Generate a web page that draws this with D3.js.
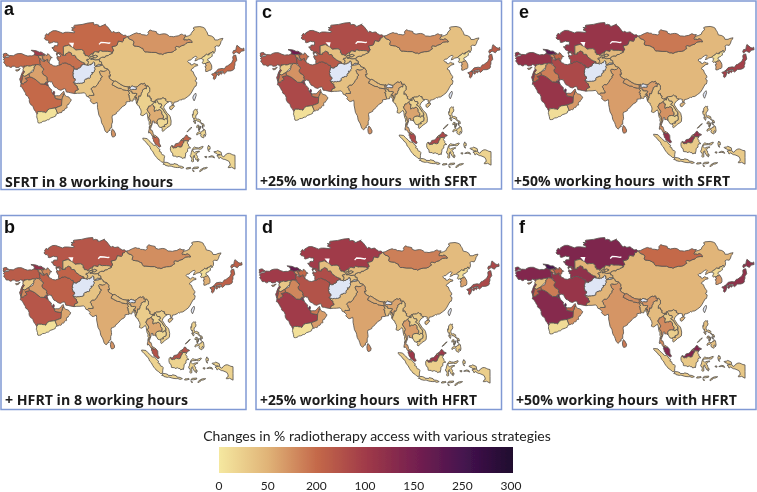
<!DOCTYPE html>
<html>
<head>
<meta charset="utf-8">
<script src="https://cdn.jsdelivr.net/npm/d3@7"></script>
<style>
  html, body { margin: 0; padding: 0; background: #fff; }
  svg { display: block; }
</style>
</head>
<body>
<div id="chart"></div>
<script>
const width = 757;
const height = 492;

// country order shared by all the value arrays below
const countries = ['China','Kazakhstan','Mongolia','India','Pakistan','Afghanistan','Turkey','Iran','Saudi Arabia','Iraq','Yemen','Oman','UAE','Kuwait','Qatar','Georgia','Armenia','Azerbaijan','Syria','Jordan','Lebanon','Israel','Cyprus','Turkmenistan','Uzbekistan','Kyrgyzstan','Tajikistan','Nepal','Bhutan','Bangladesh','Sri Lanka','Myanmar','Thailand','Laos','Vietnam','Cambodia','Malaysia','Brunei','Indonesia','Timor-Leste','Philippines','Taiwan','North Korea','South Korea','Japan'];

// % change, null = no data
const sfrt8   = [35,100,70,50,32,null,100,90,100,62,5,55,70,140,160,150,60,75,25,75,120,120,60,95,32,32,30,38,null,32,70,22,55,18,22,15,105,45,17,15,18,null,10,50,100];
const hfrt8   = [38,120,75,55,35,null,115,110,120,65,8,58,75,150,175,165,62,80,28,80,130,130,65,105,35,35,32,42,null,35,72,26,58,20,25,18,125,45,20,15,22,null,10,52,110];
const sfrt25  = [38,130,75,55,38,null,125,120,135,72,8,60,85,165,190,205,68,95,28,85,140,140,70,115,38,38,35,45,null,35,75,26,60,22,25,18,135,50,20,18,22,null,10,58,115];
const hfrt25  = [42,150,85,60,42,null,150,125,150,80,8,65,90,180,205,215,75,100,32,90,150,150,75,130,40,42,38,55,null,40,80,32,65,25,30,20,155,55,25,18,28,null,12,62,135];
const sfrt50  = [45,160,90,65,45,null,165,135,160,85,10,68,95,190,220,225,80,105,32,100,165,165,80,140,45,45,40,60,null,42,85,38,72,28,32,22,165,60,28,20,32,null,12,65,145];
const hfrt50  = [48,190,100,70,48,null,185,160,180,88,12,72,105,200,235,245,85,115,38,105,175,175,85,170,50,50,45,75,null,45,90,42,78,30,38,25,185,65,30,22,38,null,15,68,170];

const panelLetters = ['a','b','c','d','e','f'];
const panelTitles = ['SFRT in 8 working hours','+ HFRT in 8 working hours','+25% working hours  with SFRT','+25% working hours  with HFRT','+50% working hours  with SFRT','+50% working hours  with HFRT'];
const panelValues = [sfrt8, hfrt8, sfrt25, hfrt25, sfrt50, hfrt50];

const legendTitle = 'Changes in % radiotherapy access with various strategies';
const legendLabels = ['0','50','200','100','150','250','300'];
const legendStops = [0,50,100,150,200,250,300];
const legendColors = ['#f5e8a0','#e0b377','#c4694a','#a03a48','#752050','#45134f','#1f0a2e'];

// outlines as [lon, lat] rings
const shapes = {
  'China': [
    [[123.57,53.46],[125.07,53.16],[125.95,52.79],[126.56,51.78],[126.94,51.35],[127.29,50.74],[127.66,49.76],[129.4,49.44],[130.58,48.73],[130.99,47.79],[132.51,47.79],[133.37,48.18],[135.03,48.48],[134.5,47.58],[134.11,47.21],[133.77,46.12],[133.1,45.14],[131.88,45.32],[130.98,44.84],[131.29,44.11],[131.14,42.93],[130.64,42.4],[129.99,42.99],[129.6,42.42],[128.05,41.99],[128.21,41.47],[127.34,41.5],[126.87,41.82],[126.18,41.11],[125.08,40.57],[124.27,39.93],[122.87,39.64],[122.13,39.17],[121.05,38.9],[121.59,39.36],[121.38,39.75],[122.17,40.42],[121.64,40.95],[120.77,40.59],[119.64,39.9],[119.02,39.25],[118.04,39.2],[117.53,38.74],[118.06,38.06],[118.88,37.9],[118.91,37.45],[119.7,37.16],[120.82,37.87],[121.71,37.48],[122.36,37.45],[122.52,36.93],[121.1,36.65],[120.64,36.11],[119.66,35.61],[119.15,34.91],[120.23,34.36],[120.62,33.38],[121.23,32.46],[121.91,31.69],[121.89,30.95],[121.26,30.68],[121.5,30.14],[122.09,29.83],[121.94,29.02],[121.68,28.23],[121.13,28.14],[120.4,27.05],[119.59,25.74],[118.66,24.55],[117.28,23.62],[115.89,22.78],[114.76,22.67],[114.15,22.22],[113.81,22.55],[113.24,22.05],[111.84,21.55],[110.78,21.4],[110.44,20.34],[109.89,20.28],[109.63,21.01],[109.86,21.4],[108.52,21.72],[108.05,21.55],[107.04,21.81],[106.57,22.22],[106.73,22.79],[105.81,22.98],[105.33,23.35],[104.48,22.82],[103.5,22.7],[102.71,22.71],[102.17,22.46],[101.65,22.32],[101.8,21.17],[101.27,21.2],[101.18,21.44],[101.15,21.85],[100.42,21.56],[99.98,21.74],[99.24,22.12],[99.53,22.95],[98.9,23.14],[98.66,24.06],[97.6,23.9],[97.72,25.08],[98.67,25.92],[98.71,26.74],[98.68,27.51],[98.25,27.75],[97.91,28.34],[97.33,28.26],[96.25,28.41],[96.59,28.83],[96.12,29.45],[95.4,29.03],[94.57,29.28],[93.41,28.64],[92.5,27.9],[91.7,27.77],[91.26,28.04],[90.73,28.06],[90.02,28.3],[89.48,28.04],[88.81,27.3],[88.73,28.09],[88.12,27.88],[86.95,27.97],[85.82,28.2],[85.01,28.64],[84.23,28.84],[83.9,29.32],[83.34,29.46],[82.33,30.12],[81.53,30.42],[81.11,30.18],[79.72,30.88],[78.74,31.52],[78.46,32.62],[79.18,32.48],[79.21,32.99],[78.81,33.51],[78.91,34.32],[77.84,35.49],[76.19,35.9],[75.9,36.67],[75.16,37.13],[74.98,37.42],[74.83,37.99],[74.86,38.38],[74.26,38.61],[73.93,38.51],[73.68,39.43],[73.96,39.66],[73.82,39.89],[74.78,40.37],[75.47,40.56],[76.53,40.43],[76.9,41.07],[78.19,41.19],[78.54,41.58],[80.12,42.12],[80.26,42.35],[80.18,42.92],[80.87,43.18],[79.97,44.92],[81.95,45.32],[82.46,45.54],[83.18,47.33],[85.16,47.0],[85.72,47.45],[85.77,48.46],[86.6,48.55],[87.36,49.21],[87.75,49.3],[88.01,48.6],[88.85,48.07],[90.28,47.69],[90.97,46.89],[90.59,45.72],[90.95,45.29],[92.13,45.12],[93.48,44.98],[94.69,44.35],[95.31,44.24],[95.76,43.32],[96.35,42.73],[97.45,42.75],[99.52,42.52],[101.83,42.51],[103.31,41.91],[104.52,41.91],[104.96,41.6],[106.13,42.13],[107.74,42.48],[109.24,42.52],[110.41,42.87],[111.13,43.41],[111.83,43.74],[111.67,44.07],[111.35,44.46],[111.87,45.1],[112.44,45.01],[113.46,44.81],[114.46,45.34],[115.99,45.73],[116.72,46.39],[117.42,46.67],[118.87,46.81],[119.66,46.69],[119.77,47.05],[118.87,47.75],[118.06,48.07],[117.3,47.7],[116.31,47.85],[115.74,47.73],[115.49,48.14],[116.19,49.13],[117.88,49.51],[119.29,50.14],[119.28,50.58],[120.18,51.64],[120.74,51.96],[120.73,52.52],[120.18,52.75],[121.0,53.25],[122.25,53.43]],
    [[109.48,18.2],[108.66,18.51],[108.63,19.37],[109.12,19.82],[110.21,20.1],[110.79,20.08],[111.01,19.7],[110.57,19.26],[110.34,18.68]]
  ],
  'Kazakhstan': [[[70.87,55.17],[71.18,54.13],[72.22,54.38],[73.51,54.04],[73.43,53.49],[74.38,53.55],[76.89,54.49],[76.53,54.18],[77.8,53.4],[80.04,50.86],[80.57,51.39],[81.95,50.81],[83.38,51.07],[83.94,50.89],[84.42,50.31],[85.12,50.12],[85.54,49.69],[86.83,49.83],[87.36,49.21],[86.6,48.55],[85.77,48.46],[85.72,47.45],[85.16,47.0],[83.18,47.33],[82.46,45.54],[81.95,45.32],[79.97,44.92],[80.87,43.18],[80.18,42.92],[80.26,42.35],[79.64,42.5],[79.14,42.86],[77.66,42.96],[76.0,42.99],[75.64,42.88],[74.21,43.3],[73.65,43.09],[73.49,42.5],[71.84,42.85],[71.19,42.7],[70.96,42.27],[70.39,42.08],[69.07,41.38],[68.63,40.67],[68.26,40.66],[67.99,41.14],[66.71,41.17],[66.51,41.99],[66.02,41.99],[66.1,42.99],[64.9,43.73],[63.19,43.65],[62.01,43.5],[61.06,44.41],[60.24,44.78],[58.69,45.5],[58.5,45.59],[55.93,44.99],[55.97,41.31],[55.46,41.26],[54.76,42.04],[54.08,42.32],[52.94,42.12],[52.5,41.78],[52.45,42.03],[52.69,42.44],[52.5,42.79],[51.34,43.13],[50.89,44.03],[50.34,44.28],[50.31,44.61],[51.28,44.51],[51.32,45.25],[52.17,45.41],[53.04,45.26],[53.22,46.23],[53.04,46.85],[52.04,46.8],[51.19,47.05],[50.03,46.61],[49.1,46.4],[48.59,46.56],[48.69,47.08],[48.06,47.74],[47.32,47.72],[46.47,48.39],[47.04,49.15],[46.75,49.36],[47.55,50.45],[48.58,49.87],[48.7,50.61],[50.77,51.69],[52.33,51.72],[54.53,51.03],[55.72,50.62],[56.78,51.04],[58.36,51.06],[61.34,50.8],[61.59,51.27],[60.0,51.96],[60.93,52.45],[59.97,52.98],[61.7,52.98],[60.98,53.66],[61.44,54.01],[65.18,54.35],[68.17,54.97],[69.07,55.39]]],
  'Mongolia': [[[87.75,49.3],[88.81,49.47],[90.71,50.33],[92.23,50.8],[93.1,50.5],[94.15,50.48],[94.82,50.01],[95.81,49.98],[97.26,49.73],[98.23,50.42],[97.83,51.01],[98.86,52.05],[99.98,51.63],[100.89,51.52],[102.07,51.26],[102.26,50.51],[103.68,50.09],[104.62,50.28],[105.89,50.41],[106.89,50.27],[107.87,49.79],[108.48,49.28],[109.4,49.29],[110.66,49.13],[111.58,49.38],[112.9,49.54],[114.36,50.25],[114.96,50.14],[115.49,49.81],[116.68,49.89],[116.19,49.13],[115.49,48.14],[115.74,47.73],[116.31,47.85],[117.3,47.7],[118.06,48.07],[118.87,47.75],[119.77,47.05],[119.66,46.69],[118.87,46.81],[117.42,46.67],[116.72,46.39],[115.99,45.73],[114.46,45.34],[113.46,44.81],[112.44,45.01],[111.87,45.1],[111.35,44.46],[111.67,44.07],[111.83,43.74],[111.13,43.41],[110.41,42.87],[109.24,42.52],[107.74,42.48],[106.13,42.13],[104.96,41.6],[104.52,41.91],[103.31,41.91],[101.83,42.51],[99.52,42.52],[97.45,42.75],[96.35,42.73],[95.76,43.32],[95.31,44.24],[94.69,44.35],[93.48,44.98],[92.13,45.12],[90.95,45.29],[90.59,45.72],[90.97,46.89],[90.28,47.69],[88.85,48.07],[88.01,48.6]]],
  'India': [[[77.84,35.49],[78.91,34.32],[78.81,33.51],[79.21,32.99],[79.18,32.48],[78.46,32.62],[78.74,31.52],[79.72,30.88],[81.11,30.18],[80.48,29.73],[80.09,28.79],[81.06,28.42],[81.99,27.93],[83.3,27.36],[84.68,27.23],[85.25,26.73],[86.02,26.63],[87.23,26.4],[88.06,26.41],[88.17,26.81],[88.04,27.45],[88.12,27.88],[88.73,28.09],[88.81,27.3],[88.84,27.1],[89.74,26.72],[90.37,26.88],[91.22,26.81],[92.03,26.84],[92.1,27.45],[91.7,27.77],[92.5,27.9],[93.41,28.64],[94.57,29.28],[95.4,29.03],[96.12,29.45],[96.59,28.83],[96.25,28.41],[97.33,28.26],[97.4,27.88],[97.05,27.7],[97.13,27.08],[96.42,27.26],[95.12,26.57],[95.16,26.0],[94.6,25.16],[94.55,24.68],[94.11,23.85],[93.33,24.08],[93.29,23.04],[93.06,22.7],[93.17,22.28],[92.67,22.04],[92.15,23.63],[91.87,23.62],[91.71,22.99],[91.16,23.5],[91.47,24.07],[91.92,24.13],[92.38,24.98],[91.8,25.15],[90.87,25.13],[89.92,25.27],[89.83,25.97],[89.36,26.01],[88.56,26.45],[88.21,25.77],[88.93,25.24],[88.31,24.87],[88.08,24.5],[88.7,24.23],[88.53,23.63],[88.88,22.88],[89.03,22.06],[88.89,21.69],[88.21,21.7],[86.98,21.5],[87.03,20.74],[86.5,20.15],[85.06,19.48],[83.94,18.3],[83.19,17.67],[82.19,17.02],[82.19,16.56],[81.69,16.31],[80.79,15.95],[80.32,15.9],[80.03,15.14],[80.23,13.84],[80.29,13.01],[79.86,12.06],[79.86,10.36],[79.34,10.31],[78.89,9.55],[79.19,9.22],[78.28,8.93],[77.94,8.25],[77.54,7.97],[76.59,8.9],[76.13,10.3],[75.75,11.31],[75.4,11.78],[74.86,12.74],[74.62,13.99],[74.44,14.62],[73.53,15.99],[73.12,17.93],[72.82,19.21],[72.82,20.42],[72.63,21.36],[71.18,20.76],[70.47,20.88],[69.16,22.09],[69.64,22.45],[69.35,22.84],[68.18,23.69],[68.84,24.36],[71.04,24.36],[70.84,25.22],[70.28,25.72],[70.17,26.49],[69.51,26.94],[70.62,27.99],[71.78,27.91],[72.82,28.96],[73.45,29.98],[74.42,30.98],[74.41,31.69],[75.26,32.27],[74.45,32.76],[74.1,33.44],[73.75,34.32],[74.24,34.75],[75.76,34.5],[76.87,34.65]]],
  'Pakistan': [[[75.16,37.13],[75.9,36.67],[76.19,35.9],[77.84,35.49],[76.87,34.65],[75.76,34.5],[74.24,34.75],[73.75,34.32],[74.1,33.44],[74.45,32.76],[75.26,32.27],[74.41,31.69],[74.42,30.98],[73.45,29.98],[72.82,28.96],[71.78,27.91],[70.62,27.99],[69.51,26.94],[70.17,26.49],[70.28,25.72],[70.84,25.22],[71.04,24.36],[69.51,24.26],[68.84,24.36],[68.18,23.69],[67.44,23.94],[67.15,24.66],[66.37,25.43],[64.53,25.24],[62.91,25.22],[61.5,25.08],[61.87,26.24],[63.32,26.76],[63.23,27.22],[62.76,27.38],[62.73,28.26],[61.77,28.7],[61.37,29.3],[60.87,29.83],[62.55,29.32],[63.55,29.47],[64.15,29.34],[64.35,29.56],[65.05,29.47],[66.35,29.89],[66.38,30.74],[66.94,31.3],[67.68,31.3],[67.79,31.58],[68.56,31.71],[68.93,31.62],[69.32,31.9],[69.26,32.5],[69.69,33.11],[70.32,33.36],[69.93,34.02],[70.88,33.99],[71.16,34.35],[71.11,34.73],[71.61,35.15],[71.5,35.65],[71.26,36.07],[71.85,36.51],[72.92,36.72],[74.07,36.84],[74.58,37.02]]],
  'Afghanistan': [[[66.52,37.36],[67.08,37.36],[67.83,37.14],[68.14,37.02],[68.86,37.34],[69.2,37.15],[69.52,37.61],[70.12,37.59],[70.27,37.74],[70.38,38.14],[70.81,38.49],[71.35,38.26],[71.24,37.95],[71.54,37.91],[71.45,37.07],[71.84,36.51],[72.19,36.95],[72.64,37.05],[73.26,37.5],[73.95,37.42],[74.98,37.42],[75.16,37.13],[74.58,37.02],[74.07,36.84],[72.92,36.72],[71.85,36.51],[71.26,36.07],[71.5,35.65],[71.61,35.15],[71.11,34.73],[71.16,34.35],[70.88,33.99],[69.93,34.02],[70.32,33.36],[69.69,33.11],[69.26,32.5],[69.32,31.9],[68.93,31.62],[68.56,31.71],[67.79,31.58],[67.68,31.3],[66.94,31.3],[66.38,30.74],[66.35,29.89],[65.05,29.47],[64.35,29.56],[64.15,29.34],[63.55,29.47],[62.55,29.32],[60.87,29.83],[61.78,30.74],[61.7,31.38],[60.94,31.55],[60.86,32.18],[60.54,32.98],[60.96,33.53],[60.53,33.68],[60.8,34.4],[61.21,35.65],[62.23,35.27],[62.98,35.4],[63.19,35.86],[63.98,36.01],[64.55,36.31],[64.75,37.11],[65.59,37.31],[65.75,37.66],[66.22,37.39]]],
  'Turkey': [
    [[44.77,37.17],[44.29,37.0],[43.94,37.26],[42.78,37.39],[42.35,37.23],[41.21,37.07],[40.67,37.09],[39.52,36.72],[38.7,36.71],[38.17,36.9],[37.07,36.62],[36.74,36.82],[36.69,36.26],[36.42,36.04],[36.15,35.82],[35.78,36.27],[36.16,36.65],[35.55,36.57],[34.71,36.8],[34.03,36.22],[32.51,36.11],[31.7,36.64],[30.62,36.68],[30.39,36.26],[29.7,36.14],[28.73,36.68],[27.64,36.66],[27.05,37.65],[26.32,38.21],[26.8,38.99],[26.17,39.46],[27.28,40.42],[28.82,40.46],[29.24,41.22],[31.15,41.09],[32.35,41.74],[33.51,42.02],[35.17,42.04],[36.91,41.34],[38.35,40.95],[39.51,41.1],[40.37,41.01],[41.55,41.54],[42.62,41.58],[43.58,41.09],[43.75,40.74],[43.66,40.25],[44.4,40.01],[44.79,39.71],[44.11,39.43],[44.42,38.28],[44.23,37.97]],
    [[26.04,40.82],[26.29,40.94],[26.12,41.83],[27.14,42.14],[27.99,42.01],[28.12,41.62],[28.99,41.3],[28.81,41.05],[27.62,41.0],[27.19,40.69],[26.36,40.15],[26.04,40.62]]
  ],
  'Iran': [[[53.92,37.2],[54.8,37.39],[55.51,37.96],[56.18,37.94],[56.62,38.12],[57.33,38.03],[58.44,37.52],[59.23,37.41],[60.38,36.53],[61.12,36.49],[61.21,35.65],[60.8,34.4],[60.53,33.68],[60.96,33.53],[60.54,32.98],[60.86,32.18],[60.94,31.55],[61.7,31.38],[61.78,30.74],[60.87,29.83],[61.37,29.3],[61.77,28.7],[62.73,28.26],[62.76,27.38],[63.23,27.22],[63.32,26.76],[61.87,26.24],[61.5,25.08],[59.62,25.38],[58.53,25.61],[57.4,25.74],[56.97,26.97],[56.49,27.14],[55.72,26.96],[54.72,26.48],[53.49,26.81],[52.48,27.58],[51.52,27.87],[50.85,28.81],[50.12,30.15],[49.58,29.99],[48.94,30.32],[48.57,29.93],[48.01,30.45],[48.0,30.99],[47.69,31.0],[47.85,31.71],[47.33,32.47],[46.11,32.96],[45.42,33.97],[45.65,34.75],[46.15,35.09],[46.08,35.68],[45.42,35.98],[44.77,37.17],[44.23,37.97],[44.42,38.28],[44.11,39.43],[44.79,39.71],[44.95,39.34],[45.46,38.87],[46.14,38.74],[46.51,38.77],[47.69,39.51],[48.06,39.58],[48.36,39.29],[48.01,38.79],[48.63,38.27],[48.88,38.32],[49.2,37.58],[50.15,37.37],[50.84,36.87],[52.26,36.7],[53.83,36.97]]],
  'Saudi Arabia': [[[34.96,29.36],[36.07,29.2],[36.5,29.51],[36.74,29.87],[37.5,30.0],[37.67,30.34],[38.0,30.51],[37.0,31.51],[39.0,32.01],[39.2,32.16],[40.4,31.89],[41.89,31.19],[44.71,29.18],[46.57,29.1],[47.46,29.0],[47.71,28.53],[48.42,28.55],[48.81,27.69],[49.3,27.46],[49.47,27.11],[50.15,26.69],[50.21,26.28],[50.11,25.94],[50.24,25.61],[50.53,25.33],[50.66,24.9],[50.81,24.75],[51.11,24.56],[51.39,24.63],[51.58,24.25],[51.62,24.01],[52.0,23.0],[55.01,22.5],[55.21,22.71],[55.67,22.0],[55.0,20.0],[52.0,19.0],[49.12,18.62],[48.18,18.17],[47.47,17.12],[47.0,16.95],[46.75,17.28],[46.37,17.23],[45.4,17.33],[45.22,17.43],[44.06,17.41],[43.79,17.32],[43.38,17.58],[43.12,17.09],[43.22,16.67],[42.78,16.35],[42.65,16.77],[42.35,17.08],[42.27,17.47],[41.75,17.83],[41.22,18.67],[40.94,19.49],[40.25,20.17],[39.8,20.34],[39.14,21.29],[39.02,21.99],[39.07,22.58],[38.49,23.69],[38.02,24.08],[37.48,24.29],[37.15,24.86],[37.21,25.08],[36.93,25.6],[36.64,25.83],[36.25,26.57],[35.64,27.38],[35.13,28.06],[34.63,28.06],[34.79,28.61],[34.83,28.96]]],
  'Iraq': [[[45.42,35.98],[46.08,35.68],[46.15,35.09],[45.65,34.75],[45.42,33.97],[46.11,32.96],[47.33,32.47],[47.85,31.71],[47.69,31.0],[48.0,30.99],[48.01,30.45],[48.57,29.93],[47.97,29.98],[47.3,30.06],[46.57,29.1],[44.71,29.18],[41.89,31.19],[40.4,31.89],[39.2,32.16],[38.79,33.38],[41.01,34.42],[41.38,35.63],[41.29,36.36],[41.84,36.61],[42.35,37.23],[42.78,37.39],[43.94,37.26],[44.29,37.0],[44.77,37.17]]],
  'Yemen': [[[53.11,16.65],[52.39,16.38],[52.19,15.94],[52.17,15.6],[51.17,15.18],[49.57,14.71],[48.68,14.0],[48.24,13.95],[47.94,14.01],[47.35,13.59],[46.72,13.4],[45.88,13.35],[45.63,13.29],[45.41,13.03],[45.14,12.95],[44.99,12.7],[44.49,12.72],[44.18,12.59],[43.48,12.64],[43.22,13.22],[43.25,13.77],[43.09,14.06],[42.89,14.8],[42.6,15.21],[42.81,15.26],[42.7,15.72],[42.82,15.91],[42.78,16.35],[43.22,16.67],[43.12,17.09],[43.38,17.58],[43.79,17.32],[44.06,17.41],[45.22,17.43],[45.4,17.33],[46.37,17.23],[46.75,17.28],[47.0,16.95],[47.47,17.12],[48.18,18.17],[49.12,18.62],[52.0,19.0],[52.78,17.35]]],
  'Oman': [[[55.21,22.71],[55.23,23.11],[55.53,23.52],[55.53,23.93],[55.98,24.13],[55.8,24.27],[55.89,24.92],[56.4,24.92],[56.85,24.24],[57.4,23.88],[58.14,23.75],[58.73,23.57],[59.18,22.99],[59.45,22.66],[59.81,22.53],[59.81,22.31],[59.44,21.71],[59.28,21.43],[58.86,21.11],[58.49,20.43],[58.03,20.48],[57.83,20.24],[57.67,19.74],[57.79,19.07],[57.69,18.94],[57.23,18.95],[56.61,18.57],[56.51,18.09],[56.28,17.88],[55.66,17.88],[55.27,17.63],[55.27,17.23],[54.79,16.95],[54.24,17.04],[53.57,16.71],[53.11,16.65],[52.78,17.35],[52.0,19.0],[55.0,20.0],[55.67,22.0]]],
  'UAE': [[[51.58,24.25],[51.76,24.29],[51.79,24.02],[52.58,24.18],[53.4,24.15],[54.01,24.12],[54.69,24.8],[55.44,25.44],[56.07,26.06],[56.26,25.71],[56.4,24.92],[55.89,24.92],[55.8,24.27],[55.98,24.13],[55.53,23.93],[55.53,23.52],[55.23,23.11],[55.21,22.71],[55.01,22.5],[52.0,23.0],[51.62,24.01]]],
  'Kuwait': [[[47.97,29.98],[48.18,29.53],[48.09,29.31],[48.42,28.55],[47.71,28.53],[47.46,29.0],[46.57,29.1],[47.3,30.06]]],
  'Qatar': [[[50.81,24.75],[50.74,25.48],[51.01,26.01],[51.29,26.11],[51.59,25.8],[51.61,25.22],[51.39,24.63],[51.11,24.56]]],
  'Georgia': [[[41.55,41.54],[41.7,41.96],[41.45,42.65],[40.88,43.01],[40.32,43.13],[39.96,43.44],[40.92,43.38],[42.39,43.22],[43.76,42.74],[43.93,42.55],[44.54,42.71],[45.47,42.5],[45.78,42.09],[46.4,41.86],[46.15,41.72],[46.64,41.18],[46.5,41.06],[45.96,41.12],[45.22,41.41],[44.97,41.25],[43.58,41.09],[42.62,41.58]]],
  'Armenia': [[[43.58,41.09],[44.97,41.25],[45.18,40.99],[45.56,40.81],[45.36,40.56],[45.89,40.22],[45.61,39.9],[46.03,39.63],[46.48,39.46],[46.51,38.77],[46.14,38.74],[45.74,39.32],[45.3,39.47],[45.0,39.74],[44.79,39.71],[44.4,40.01],[43.66,40.25],[43.75,40.74]]],
  'Azerbaijan': [[[46.4,41.86],[46.69,41.83],[47.37,41.22],[47.82,41.15],[48.01,41.94],[48.58,41.81],[49.11,41.28],[49.62,40.57],[50.08,40.53],[50.39,40.26],[49.57,40.18],[49.4,39.4],[49.22,39.05],[48.86,38.82],[48.88,38.32],[48.63,38.27],[48.01,38.79],[48.36,39.29],[48.06,39.58],[47.69,39.51],[46.51,38.77],[46.48,39.46],[46.03,39.63],[45.61,39.9],[45.89,40.22],[45.36,40.56],[45.56,40.81],[45.18,40.99],[44.97,41.25],[45.22,41.41],[45.96,41.12],[46.5,41.06],[46.64,41.18],[46.15,41.72]]],
  'Syria': [[[38.79,33.38],[36.83,32.31],[35.72,32.71],[35.82,33.28],[36.07,33.82],[36.61,34.2],[36.45,34.59],[35.99,34.64],[35.91,35.41],[36.15,35.82],[36.42,36.04],[36.69,36.26],[36.74,36.82],[37.07,36.62],[38.17,36.9],[38.7,36.71],[39.52,36.72],[40.67,37.09],[41.21,37.07],[42.35,37.23],[41.84,36.61],[41.29,36.36],[41.38,35.63],[41.01,34.42]]],
  'Jordan': [[[35.55,32.39],[35.72,32.71],[36.83,32.31],[38.79,33.38],[39.2,32.16],[39.0,32.01],[37.0,31.51],[38.0,30.51],[37.67,30.34],[37.5,30.0],[36.74,29.87],[36.5,29.51],[36.07,29.2],[34.96,29.36],[34.92,29.5],[35.42,31.1],[35.55,31.78]]],
  'Lebanon': [[[35.82,33.28],[35.55,33.26],[35.46,33.09],[35.13,33.09],[35.48,33.91],[35.98,34.61],[36.45,34.59],[36.61,34.2],[36.07,33.82]]],
  'Israel': [[[35.72,32.71],[35.55,32.39],[35.55,31.78],[35.42,31.1],[34.92,29.5],[34.27,31.22],[34.75,32.07],[34.96,32.83],[35.13,33.09],[35.46,33.09],[35.55,33.26],[35.82,33.28]]],
  'Cyprus': [[[33.97,35.06],[34.0,34.98],[32.98,34.57],[32.49,34.7],[32.26,35.1],[32.73,35.14],[33.19,35.17],[34.58,35.67],[33.9,35.25]]],
  'Turkmenistan': [[[61.21,35.65],[61.12,36.49],[60.38,36.53],[59.23,37.41],[58.44,37.52],[57.33,38.03],[56.62,38.12],[56.18,37.94],[55.51,37.96],[54.8,37.39],[53.92,37.2],[53.74,37.91],[53.88,38.95],[53.1,39.29],[53.36,39.98],[52.69,40.03],[52.92,40.88],[53.86,40.63],[54.74,40.95],[54.01,41.55],[53.72,42.12],[52.92,41.87],[52.81,41.14],[52.5,41.78],[52.94,42.12],[54.08,42.32],[54.76,42.04],[55.46,41.26],[55.97,41.31],[57.1,41.32],[56.93,41.83],[57.79,42.17],[58.63,42.75],[59.98,42.22],[60.08,41.43],[60.47,41.22],[61.55,41.27],[61.88,41.08],[62.37,40.05],[63.52,39.36],[64.17,38.89],[65.22,38.4],[66.55,37.97],[66.52,37.36],[66.22,37.39],[65.75,37.66],[65.59,37.31],[64.75,37.11],[64.55,36.31],[63.98,36.01],[63.19,35.86],[62.98,35.4],[62.23,35.27]]],
  'Uzbekistan': [[[66.52,37.36],[66.55,37.97],[65.22,38.4],[64.17,38.89],[63.52,39.36],[62.37,40.05],[61.88,41.08],[61.55,41.27],[60.47,41.22],[60.08,41.43],[59.98,42.22],[58.63,42.75],[57.79,42.17],[56.93,41.83],[57.1,41.32],[55.97,41.31],[55.93,44.99],[58.5,45.59],[58.69,45.5],[60.24,44.78],[61.06,44.41],[62.01,43.5],[63.19,43.65],[64.9,43.73],[66.1,42.99],[66.02,41.99],[66.51,41.99],[66.71,41.17],[67.99,41.14],[68.26,40.66],[68.63,40.67],[69.07,41.38],[70.39,42.08],[70.96,42.27],[71.26,42.17],[70.42,41.52],[71.16,41.14],[71.87,41.39],[73.06,40.87],[71.77,40.15],[71.01,40.24],[70.6,40.22],[70.46,40.5],[70.67,40.96],[69.33,40.73],[69.01,40.09],[68.55,39.53],[67.7,39.58],[67.44,39.14],[68.18,38.9],[68.39,38.16],[67.83,37.14],[67.08,37.36]]],
  'Kyrgyzstan': [[[70.96,42.27],[71.19,42.7],[71.84,42.85],[73.49,42.5],[73.65,43.09],[74.21,43.3],[75.64,42.88],[76.0,42.99],[77.66,42.96],[79.14,42.86],[79.64,42.5],[80.26,42.35],[80.12,42.12],[78.54,41.58],[78.19,41.19],[76.9,41.07],[76.53,40.43],[75.47,40.56],[74.78,40.37],[73.82,39.89],[73.96,39.66],[73.68,39.43],[71.78,39.28],[70.55,39.6],[69.46,39.53],[69.56,40.1],[70.65,39.94],[71.01,40.24],[71.77,40.15],[73.06,40.87],[71.87,41.39],[71.16,41.14],[70.42,41.52],[71.26,42.17]]],
  'Tajikistan': [[[71.01,40.24],[70.65,39.94],[69.56,40.1],[69.46,39.53],[70.55,39.6],[71.78,39.28],[73.68,39.43],[73.93,38.51],[74.26,38.61],[74.86,38.38],[74.83,37.99],[74.98,37.42],[73.95,37.42],[73.26,37.5],[72.64,37.05],[72.19,36.95],[71.84,36.51],[71.45,37.07],[71.54,37.91],[71.24,37.95],[71.35,38.26],[70.81,38.49],[70.38,38.14],[70.27,37.74],[70.12,37.59],[69.52,37.61],[69.2,37.15],[68.86,37.34],[68.14,37.02],[67.83,37.14],[68.39,38.16],[68.18,38.9],[67.44,39.14],[67.7,39.58],[68.55,39.53],[69.01,40.09],[69.33,40.73],[70.67,40.96],[70.46,40.5],[70.6,40.22]]],
  'Nepal': [[[88.12,27.88],[88.04,27.45],[88.17,26.81],[88.06,26.41],[87.23,26.4],[86.02,26.63],[85.25,26.73],[84.68,27.23],[83.3,27.36],[81.99,27.93],[81.06,28.42],[80.09,28.79],[80.48,29.73],[81.11,30.18],[81.53,30.42],[82.33,30.12],[83.34,29.46],[83.9,29.32],[84.23,28.84],[85.01,28.64],[85.82,28.2],[86.95,27.97]]],
  'Bhutan': [[[91.7,27.77],[92.1,27.45],[92.03,26.84],[91.22,26.81],[90.37,26.88],[89.74,26.72],[88.84,27.1],[88.81,27.3],[89.48,28.04],[90.02,28.3],[90.73,28.06],[91.26,28.04]]],
  'Bangladesh': [[[92.67,22.04],[92.65,21.32],[92.3,21.48],[92.37,20.67],[92.08,21.19],[92.03,21.7],[91.83,22.18],[91.42,22.77],[90.5,22.81],[90.59,22.39],[90.27,21.84],[89.85,22.04],[89.7,21.86],[89.42,21.97],[89.03,22.06],[88.88,22.88],[88.53,23.63],[88.7,24.23],[88.08,24.5],[88.31,24.87],[88.93,25.24],[88.21,25.77],[88.56,26.45],[89.36,26.01],[89.83,25.97],[89.92,25.27],[90.87,25.13],[91.8,25.15],[92.38,24.98],[91.92,24.13],[91.47,24.07],[91.16,23.5],[91.71,22.99],[91.87,23.62],[92.15,23.63]]],
  'Sri Lanka': [[[81.79,7.52],[81.64,6.48],[81.22,6.2],[80.35,5.97],[79.87,6.76],[79.7,8.2],[80.15,9.82],[80.84,9.27],[81.3,8.56]]],
  'Myanmar': [[[99.54,20.19],[98.96,19.75],[98.25,19.71],[97.8,18.63],[97.38,18.45],[97.86,17.57],[98.49,16.84],[98.9,16.18],[98.54,15.31],[98.19,15.12],[98.43,14.62],[99.1,13.83],[99.21,13.27],[99.2,12.8],[99.59,11.89],[99.04,10.96],[98.55,9.93],[98.46,10.68],[98.76,11.44],[98.43,12.03],[98.51,13.12],[98.1,13.64],[97.78,14.84],[97.6,16.1],[97.16,16.93],[96.51,16.43],[95.37,15.71],[94.81,15.8],[94.19,16.04],[94.53,17.28],[94.32,18.21],[93.54,19.37],[93.66,19.73],[93.08,19.86],[92.37,20.67],[92.3,21.48],[92.65,21.32],[92.67,22.04],[93.17,22.28],[93.06,22.7],[93.29,23.04],[93.33,24.08],[94.11,23.85],[94.55,24.68],[94.6,25.16],[95.16,26.0],[95.12,26.57],[96.42,27.26],[97.13,27.08],[97.05,27.7],[97.4,27.88],[97.33,28.26],[97.91,28.34],[98.25,27.75],[98.68,27.51],[98.71,26.74],[98.67,25.92],[97.72,25.08],[97.6,23.9],[98.66,24.06],[98.9,23.14],[99.53,22.95],[99.24,22.12],[99.98,21.74],[100.42,21.56],[101.15,21.85],[101.18,21.44],[100.33,20.79],[100.12,20.42]]],
  'Thailand': [[[105.22,14.27],[104.28,14.42],[102.99,14.23],[102.35,13.39],[102.58,12.19],[101.69,12.65],[100.83,12.63],[100.98,13.41],[100.1,13.41],[100.02,12.31],[99.48,10.85],[99.15,9.96],[99.22,9.24],[99.87,9.21],[100.28,8.3],[100.46,7.43],[101.02,6.86],[101.62,6.74],[102.14,6.22],[101.81,5.81],[101.15,5.69],[101.08,6.2],[100.26,6.64],[100.09,6.46],[99.69,6.85],[99.52,7.34],[98.99,7.91],[98.5,8.38],[98.34,7.79],[98.15,8.35],[98.26,8.97],[98.55,9.93],[99.04,10.96],[99.59,11.89],[99.2,12.8],[99.21,13.27],[99.1,13.83],[98.43,14.62],[98.19,15.12],[98.54,15.31],[98.9,16.18],[98.49,16.84],[97.86,17.57],[97.38,18.45],[97.8,18.63],[98.25,19.71],[98.96,19.75],[99.54,20.19],[100.12,20.42],[100.55,20.11],[100.61,19.51],[101.28,19.46],[100.99,18.41],[101.06,17.51],[102.11,18.11],[102.41,17.93],[102.99,17.96],[103.2,18.31],[103.96,18.24],[104.72,17.43],[104.78,16.44],[105.59,15.57],[105.54,14.72]]],
  'Laos': [[[107.38,14.2],[106.5,14.57],[106.04,13.88],[105.22,14.27],[105.54,14.72],[105.59,15.57],[104.78,16.44],[104.72,17.43],[103.96,18.24],[103.2,18.31],[102.99,17.96],[102.41,17.93],[102.11,18.11],[101.06,17.51],[100.99,18.41],[101.28,19.46],[100.61,19.51],[100.55,20.11],[100.12,20.42],[100.33,20.79],[101.18,21.44],[101.27,21.2],[101.8,21.17],[101.65,22.32],[102.17,22.46],[102.75,21.68],[103.2,20.77],[104.44,20.76],[104.82,19.89],[104.18,19.62],[103.9,19.27],[105.09,18.67],[105.93,17.49],[106.56,16.6],[107.31,15.91],[107.56,15.2]]],
  'Vietnam': [[[102.17,22.46],[102.71,22.71],[103.5,22.7],[104.48,22.82],[105.33,23.35],[105.81,22.98],[106.73,22.79],[106.57,22.22],[107.04,21.81],[108.05,21.55],[106.71,20.7],[105.88,19.75],[105.66,19.06],[106.43,18.0],[107.36,16.7],[108.27,16.08],[108.88,15.28],[109.34,13.43],[109.2,11.67],[108.37,11.01],[107.22,10.36],[106.41,9.53],[105.16,8.6],[104.8,9.24],[105.08,9.92],[104.33,10.49],[105.2,10.89],[106.25,10.96],[105.81,11.57],[107.49,12.34],[107.61,13.54],[107.38,14.2],[107.56,15.2],[107.31,15.91],[106.56,16.6],[105.93,17.49],[105.09,18.67],[103.9,19.27],[104.18,19.62],[104.82,19.89],[104.44,20.76],[103.2,20.77],[102.75,21.68]]],
  'Cambodia': [[[102.58,12.19],[102.35,13.39],[102.99,14.23],[104.28,14.42],[105.22,14.27],[106.04,13.88],[106.5,14.57],[107.38,14.2],[107.61,13.54],[107.49,12.34],[105.81,11.57],[106.25,10.96],[105.2,10.89],[104.33,10.49],[103.5,10.63],[103.09,11.15]]],
  'Malaysia': [
    [[101.08,6.2],[101.15,5.69],[101.81,5.81],[102.14,6.22],[102.37,6.13],[102.96,5.52],[103.38,4.86],[103.44,3.38],[103.5,2.79],[103.85,2.52],[104.25,1.63],[103.52,1.23],[102.57,1.97],[101.39,2.76],[101.27,3.27],[100.69,3.94],[100.56,4.77],[100.2,5.31],[100.31,6.04],[100.09,6.46],[100.26,6.64]],
    [[117.88,4.14],[117.02,4.31],[115.87,4.31],[115.52,3.17],[115.13,2.82],[114.62,1.43],[113.81,1.22],[112.86,1.5],[112.38,1.41],[111.8,0.9],[111.16,0.98],[110.51,0.77],[109.83,1.34],[109.66,2.01],[110.4,1.66],[111.17,1.85],[111.37,2.7],[111.8,2.89],[113.0,3.1],[113.71,3.89],[114.2,4.53],[114.6,4.9],[115.45,5.45],[116.22,6.14],[116.73,6.92],[117.13,6.93],[117.64,6.42],[117.69,5.99],[119.18,5.41],[119.11,5.02],[118.44,4.97],[118.62,4.48]]
  ],
  'Brunei': [[[114.2,4.53],[114.6,4.9],[115.45,5.45],[115.41,4.96],[115.35,4.32],[114.87,4.35],[114.66,4.01]]],
  'Indonesia': [
    [[117.88,4.14],[117.31,3.23],[118.05,2.29],[117.88,1.83],[118.99,0.9],[117.81,0.78],[117.48,0.1],[117.52,-0.8],[116.56,-1.49],[116.53,-2.48],[116.15,-4.01],[116.0,-3.66],[114.86,-4.11],[114.47,-3.5],[113.76,-3.44],[113.26,-3.12],[112.07,-3.48],[111.7,-2.99],[111.05,-3.05],[110.22,-2.93],[110.07,-1.59],[109.57,-1.31],[109.09,-0.46],[108.95,0.42],[109.07,1.34],[109.66,2.01],[109.83,1.34],[110.51,0.77],[111.16,0.98],[111.8,0.9],[112.38,1.41],[112.86,1.5],[113.81,1.22],[114.62,1.43],[115.13,2.82],[115.52,3.17],[115.87,4.31],[117.02,4.31]],
    [[104.37,-1.08],[104.54,-1.78],[104.89,-2.34],[105.62,-2.43],[106.11,-3.06],[105.86,-4.31],[105.82,-5.85],[104.71,-5.87],[103.87,-5.04],[102.58,-4.22],[102.16,-3.61],[101.4,-2.8],[100.9,-2.05],[100.14,-0.65],[99.26,0.18],[98.97,1.04],[98.6,1.82],[97.7,2.45],[97.18,3.31],[96.42,3.87],[95.38,4.97],[95.29,5.48],[95.94,5.44],[97.48,5.25],[98.37,4.27],[99.14,3.59],[99.69,3.17],[100.64,2.1],[101.66,2.08],[102.5,1.4],[103.08,0.56],[103.84,0.1],[103.44,-0.71],[104.01,-1.06]],
    [[108.49,-6.42],[108.62,-6.78],[110.54,-6.88],[110.76,-6.47],[112.61,-6.95],[112.98,-7.59],[114.48,-7.78],[115.71,-8.37],[114.56,-8.75],[113.46,-8.35],[112.56,-8.38],[111.52,-8.3],[110.59,-8.12],[109.43,-7.74],[108.69,-7.64],[108.28,-7.77],[106.45,-7.35],[106.28,-6.92],[105.37,-6.85],[106.05,-5.9],[107.27,-5.95],[108.07,-6.35]],
    [[125.07,1.64],[125.24,1.42],[124.44,0.43],[123.69,0.24],[122.72,0.43],[120.18,0.24],[120.04,-0.52],[120.94,-1.41],[121.48,-0.96],[123.34,-0.62],[123.26,-1.08],[122.82,-0.93],[122.39,-1.52],[121.51,-1.9],[122.45,-3.19],[122.27,-3.53],[123.17,-4.68],[122.63,-5.63],[122.24,-5.28],[122.72,-4.46],[121.74,-4.85],[121.49,-4.57],[121.62,-4.19],[120.9,-3.6],[120.97,-2.63],[120.31,-2.93],[120.39,-4.1],[120.43,-5.53],[119.8,-5.67],[119.37,-5.38],[119.65,-4.46],[119.5,-3.49],[119.08,-3.49],[118.77,-2.8],[119.18,-2.15],[119.32,-1.35],[119.83,0.15],[120.04,0.57],[120.89,1.31],[121.67,1.01],[122.93,0.88],[124.08,0.92]],
    [[134.14,-1.15],[134.42,-2.77],[135.46,-3.37],[136.29,-2.31],[137.44,-1.7],[138.33,-1.7],[139.18,-2.05],[139.93,-2.41],[141.0,-2.6],[141.02,-5.86],[141.03,-9.12],[139.13,-8.1],[138.88,-8.38],[137.61,-8.41],[138.04,-7.6],[138.67,-7.32],[138.41,-6.23],[137.93,-5.39],[135.99,-4.55],[135.16,-4.46],[133.66,-3.54],[133.37,-4.02],[132.98,-4.11],[132.76,-3.75],[132.75,-3.31],[131.99,-2.82],[133.07,-2.46],[133.78,-2.48],[133.7,-2.21],[132.23,-2.21],[131.84,-1.62],[130.94,-1.43],[130.52,-0.94],[131.87,-0.7],[132.38,-0.37],[133.99,-0.78]],
    [[127.93,2.17],[128.0,1.63],[128.59,1.54],[128.69,1.13],[128.64,0.26],[128.12,0.36],[127.97,-0.25],[128.38,-0.78],[128.1,-0.9],[127.7,-0.27],[127.4,1.01],[127.6,1.81]],
    [[129.37,-2.8],[130.47,-3.09],[130.83,-3.86],[129.99,-3.45],[129.16,-3.36],[128.59,-3.43],[127.9,-3.39],[128.14,-2.84]],
    [[126.87,-3.79],[126.18,-3.61],[125.99,-3.18],[127.0,-3.13],[127.25,-3.46]],
    [[123.58,-10.36],[123.46,-10.24],[123.55,-9.9],[123.98,-9.29],[124.97,-8.89],[125.09,-9.39],[124.44,-10.14]],
    [[122.9,-8.09],[122.76,-8.65],[121.25,-8.93],[119.92,-8.81],[120.72,-8.24],[121.34,-8.54]],
    [[118.26,-8.36],[118.88,-8.28],[119.13,-8.71],[117.67,-9.04],[116.74,-9.03],[117.08,-8.46],[117.63,-8.45],[117.9,-8.1]],
    [[119.9,-9.36],[120.43,-9.67],[120.78,-9.97],[120.72,-10.24],[120.3,-10.26],[119.0,-9.6]]
  ],
  'Timor-Leste': [[[124.97,-8.89],[125.09,-8.66],[125.95,-8.43],[126.64,-8.4],[126.96,-8.27],[127.34,-8.4],[126.97,-8.67],[125.93,-9.11],[125.09,-9.39]]],
  'Philippines': [
    [[126.38,8.41],[126.48,7.75],[126.54,7.19],[126.2,6.27],[125.83,7.29],[125.36,6.79],[125.68,6.05],[125.4,5.58],[124.22,6.16],[123.94,6.89],[124.24,7.36],[123.61,7.83],[123.3,7.42],[122.83,7.46],[122.09,6.9],[121.92,7.19],[122.31,8.03],[122.94,8.32],[123.49,8.69],[123.84,8.24],[124.6,8.51],[124.76,8.96],[125.47,8.99],[125.41,9.76],[126.22,9.29],[126.31,8.78]],
    [[121.32,18.5],[121.94,18.22],[122.25,18.48],[122.34,18.22],[122.17,17.81],[122.52,17.09],[122.25,16.26],[121.66,15.93],[121.51,15.12],[121.73,14.33],[122.26,14.22],[122.7,14.34],[123.95,13.78],[123.86,13.24],[124.18,13.0],[124.08,12.54],[123.3,13.03],[122.93,13.55],[122.67,13.19],[122.03,13.78],[121.13,13.64],[120.63,13.86],[120.68,14.27],[120.99,14.53],[120.69,14.76],[120.56,14.4],[120.07,14.97],[119.92,15.41],[119.88,16.36],[120.29,16.03],[120.39,17.6],[120.72,18.51]],
    [[120.32,13.47],[121.18,13.43],[121.53,13.07],[121.26,12.21],[120.83,12.7]],
    [[119.69,10.55],[119.03,10.0],[118.5,9.32],[117.17,8.37],[117.66,9.07],[118.39,9.68],[118.99,10.38],[119.51,11.37]],
    [[122.34,11.58],[123.12,11.58],[123.1,11.17],[122.64,10.74],[122.0,10.44],[121.97,10.91],[122.04,11.42]],
    [[123.5,10.94],[122.95,10.88],[122.84,10.26],[122.95,9.02],[123.49,9.19],[123.34,9.92]],
    [[124.08,11.23],[123.98,10.28],[123.62,9.95],[123.31,9.32],[123.5,10.2]],
    [[124.9,11.4],[125.0,10.3],[125.3,10.2],[124.8,10.2],[124.5,10.9]],
    [[125.5,12.16],[125.78,11.05],[125.0,11.3],[124.27,12.56],[125.23,12.54]]
  ],
  'Taiwan': [[[121.78,24.39],[121.18,22.79],[120.75,21.97],[120.22,22.81],[120.11,23.56],[120.69,24.54],[121.5,25.3],[121.95,24.99]]],
  'North Korea': [[[130.78,42.22],[130.4,42.28],[129.97,41.94],[129.67,41.6],[129.71,40.88],[129.19,40.66],[129.01,40.49],[128.63,40.19],[127.97,40.0],[127.53,39.76],[127.5,39.32],[127.39,39.21],[127.78,39.05],[128.35,38.61],[128.21,38.37],[127.78,38.3],[127.07,38.26],[126.68,37.8],[126.24,37.84],[126.17,37.75],[125.69,37.94],[125.57,37.75],[125.28,37.67],[125.24,37.86],[124.98,37.95],[124.71,38.11],[124.99,38.55],[125.22,38.67],[125.13,38.85],[125.39,39.39],[125.32,39.55],[124.74,39.66],[124.27,39.93],[125.08,40.57],[126.18,41.11],[126.87,41.82],[127.34,41.5],[128.21,41.47],[128.05,41.99],[129.6,42.42],[129.99,42.99],[130.64,42.4]]],
  'South Korea': [[[128.35,38.61],[129.21,37.43],[129.46,36.78],[129.47,35.63],[129.09,35.08],[128.19,34.89],[127.39,34.48],[126.49,34.39],[126.37,34.93],[126.56,35.68],[126.12,36.73],[126.86,36.89],[126.17,37.75],[126.24,37.84],[126.68,37.8],[127.07,38.26],[127.78,38.3],[128.21,38.37]]],
  'Japan': [
    [[134.64,34.15],[134.77,33.81],[134.2,33.2],[133.79,33.52],[133.28,33.29],[133.01,32.7],[132.36,32.99],[132.37,33.46],[132.92,34.06],[133.49,33.94],[133.9,34.36]],
    [[129.41,33.3],[130.35,33.6],[130.88,33.88],[131.88,33.74],[131.99,33.15],[131.33,31.45],[130.69,31.03],[130.2,31.42],[130.45,32.32],[129.81,32.61]],
    [[141.88,39.18],[140.96,38.17],[140.98,37.14],[140.6,36.34],[140.77,35.84],[140.25,35.14],[138.98,34.67],[137.22,34.61],[135.79,33.46],[135.12,33.85],[135.08,34.6],[133.34,34.38],[132.16,33.9],[130.99,33.89],[132.0,34.81],[132.62,35.43],[134.61,35.73],[135.68,35.53],[136.72,36.75],[137.39,36.83],[138.86,37.83],[139.43,38.22],[140.05,39.44],[139.88,40.56],[140.31,41.2],[141.37,41.38],[141.91,39.99]],
    [[143.91,44.17],[144.61,43.96],[145.32,44.38],[145.54,43.26],[144.06,42.99],[143.18,41.99],[141.61,42.68],[141.07,42.5],[140.31,41.73],[139.85,42.5],[140.31,43.33],[141.38,43.39],[141.67,44.77],[141.97,45.55],[143.14,44.51]]
  ]
};

// lakes that show up white inside Kazakhstan
const aralSea = [[58.6,46.6],[61.2,46.6],[60.6,44.6],[58.6,44.2]];
const balkhash = [[73.6,45.9],[74.6,46.8],[76.5,46.7],[78.6,46.4],[79.2,46.7]];

// panel box and map placement: [lon26, lon141, lat55.4, lat-10]
const panelFrames = [[1,1,245,188.5],[1,215.5,245,194],[256.5,1,245,188],[256,215.5,245.5,194],[512.5,1,243.5,188],[512.5,215.5,243.5,194]];
const mapRanges = [[3,235,22,171],[3,233,237,382],[260,491,22,167],[259,490,238,385],[515,745,22,166],[515,745,237,380]];
const letterPos = [[4,15],[4,233],[262,18],[262,233],[519,18],[519,233]];
const titlePos = [[5,187,168],[5,405,183],[260,186,217],[260,405,217],[514,186,216],[516,405,221]];

const color = d3.scaleLinear().domain(legendStops).range(legendColors);
const noData = '#dfe6f5';

const svg = d3.select('#chart')
  .append('svg')
    .attr('width', width)
    .attr('height', height);

const defs = svg.append('defs');
defs.append('filter').attr('id', 'soft')
  .append('feGaussianBlur').attr('stdDeviation', 0.4);
const grad = defs.append('linearGradient').attr('id', 'legend-grad');
legendStops.forEach((d, i) => {
  grad.append('stop')
    .attr('offset', (d / 300 * 100) + '%')
    .attr('stop-color', legendColors[i]);
});

svg.append('rect').attr('width', width).attr('height', height).attr('fill', '#fff');
const root = svg.append('g').attr('filter', 'url(#soft)');

panelTitles.forEach((title, p) => {
  const [fx, fy, fw, fh] = panelFrames[p];
  const [x0, x1, y0, y1] = mapRanges[p];
  const x = d3.scaleLinear().domain([26, 141]).range([x0, x1]);
  // the source map squeezes latitudes near the equator a bit
  const y = d3.scaleLinear().domain([55.4, 12.6, -10]).range([y0, y0 + 0.678 * (y1 - y0), y1]);
  const path = d3.geoPath(d3.geoTransform({
    point(lon, lat) { this.stream.point(x(lon), y(lat)); }
  }));

  const g = root.append('g');
  g.selectAll('path.country')
    .data(countries)
    .join('path')
      .attr('class', 'country')
      .attr('d', name => path({ type: 'MultiPolygon', coordinates: shapes[name].map(r => [r]) }))
      .attr('fill', (name, i) => panelValues[p][i] === null ? noData : color(panelValues[p][i]))
      .attr('stroke', '#5a5550')
      .attr('stroke-width', 0.85)
      .attr('stroke-linejoin', 'round');

  g.append('path')
    .attr('d', path({ type: 'Polygon', coordinates: [aralSea] }))
    .attr('fill', '#fff');
  g.append('path')
    .attr('d', path({ type: 'LineString', coordinates: balkhash }))
    .attr('fill', 'none')
    .attr('stroke', '#fff')
    .attr('stroke-width', 1.3);

  root.append('rect')
    .attr('x', fx).attr('y', fy)
    .attr('width', fw).attr('height', fh)
    .attr('fill', 'none')
    .attr('stroke', '#8099d4')
    .attr('stroke-width', 1.5);

  root.append('text')
    .attr('x', letterPos[p][0])
    .attr('y', letterPos[p][1])
    .attr('font-family', 'Liberation Sans')
    .attr('font-weight', 700)
    .attr('font-size', 18)
    .attr('fill', '#111')
    .text(panelLetters[p]);

  root.append('text')
    .attr('x', titlePos[p][0])
    .attr('y', titlePos[p][1])
    .attr('textLength', titlePos[p][2])
    .attr('lengthAdjust', 'spacingAndGlyphs')
    .style('white-space', 'pre')
    .attr('font-family', 'Open Sans')
    .attr('font-weight', 700)
    .attr('font-size', 15)
    .attr('fill', '#1a1a1a')
    .text(title);
});

// colour legend
const legendX = d3.scalePoint().domain(legendLabels).range([219, 511]);

root.append('text')
  .attr('x', 377)
  .attr('y', 441)
  .attr('text-anchor', 'middle')
  .attr('font-family', 'Lato')
  .attr('font-size', 14)
  .attr('fill', '#222')
  .text(legendTitle);

root.append('rect')
  .attr('x', 219).attr('y', 447)
  .attr('width', 294).attr('height', 26)
  .attr('fill', 'url(#legend-grad)');

root.selectAll('text.tick')
  .data(legendLabels)
  .join('text')
    .attr('class', 'tick')
    .attr('x', d => legendX(d))
    .attr('y', 490)
    .attr('text-anchor', 'middle')
    .attr('font-family', 'Lato')
    .attr('font-size', 12)
    .attr('fill', '#222')
    .text(d => d);
</script>
</body>
</html>
